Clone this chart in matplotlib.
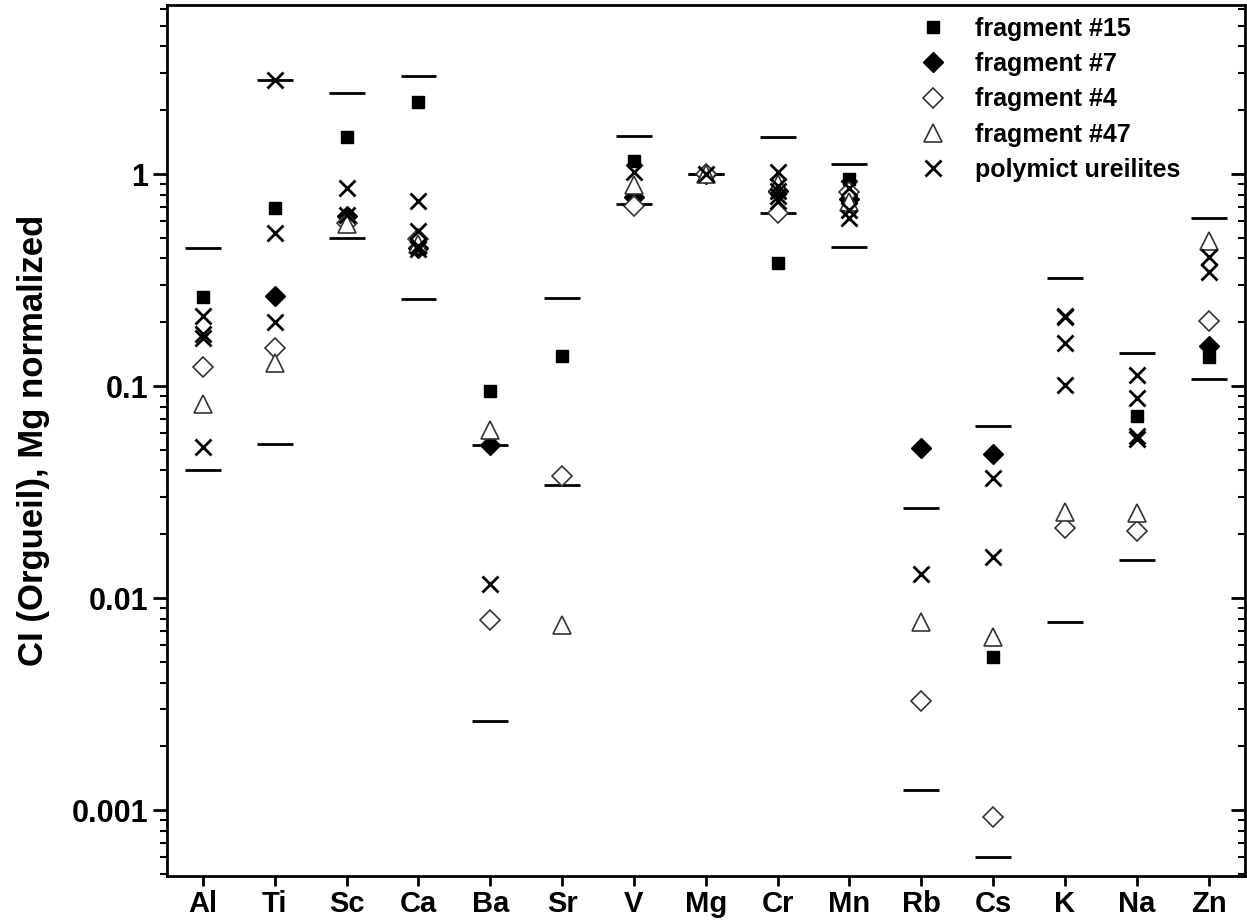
import numpy as np
import matplotlib
matplotlib.use("Agg")
import matplotlib.pyplot as plt
from matplotlib.ticker import LogLocator, FixedLocator, NullFormatter

plt.rcParams['font.family'] = ['Liberation Sans', 'DejaVu Sans']
plt.rcParams['font.weight'] = 'bold'

nan = np.nan

# Elements along the x axis
elements = ["Al", "Ti", "Sc", "Ca", "Ba", "Sr", "V", "Mg", "Cr", "Mn",
            "Rb", "Cs", "K", "Na", "Zn"]

# Range bars (upper / lower) per element
range_upper = [0.449, 2.78, 2.40, 2.91, 0.0527, 0.260, 1.52, 1.0, 1.49, 1.12,
               0.0265, 0.0646, 0.324, 0.1436, 0.620]
range_lower = [0.040, 0.0532, 0.497, 0.257, 0.00263, 0.0343, 0.722, 1.0, 0.655, 0.451,
               0.00124, 0.000602, 0.00768, 0.0152, 0.108]

# Fragments (CI Orgueil, Mg normalized)
frag15 = [0.262, 0.689, 1.50, 2.18, 0.095, 0.139, 1.156, 1.0, 0.379, 0.947,
          nan, 0.00525, nan, 0.0719, 0.137]
frag7 = [nan, 0.265, 0.632, 0.45, 0.0527, nan, 0.78, 1.0, 0.83, 0.76,
         0.0508, 0.048, nan, nan, 0.155]
frag4 = [0.1225, 0.151, 0.59, 0.494, 0.00789, 0.0376, 0.706, 1.0, 0.655, 0.82,
         0.00326, 0.000924, 0.0214, 0.0208, 0.203]
frag47 = [0.0822, 0.129, 0.58, 0.47, 0.062, 0.00746, 0.893, 1.0, 0.90, 0.74,
          0.00776, 0.00657, 0.0256, 0.0251, 0.485]

# Polymict ureilites, several analyses per element
ureilites = {
    "Al": [0.215, 0.176, 0.168, 0.0517],
    "Ti": [2.78, 0.525, 0.201],
    "Sc": [0.856, 0.64],
    "Ca": [0.748, 0.537, 0.459, 0.443],
    "Ba": [0.0116],
    "Sr": [],
    "V": [1.02],
    "Mg": [1.0],
    "Cr": [1.02, 0.881, 0.834, 0.791, 0.748],
    "Mn": [0.86, 0.68, 0.62],
    "Rb": [0.0130],
    "Cs": [0.0367, 0.01556],
    "K": [0.215, 0.212, 0.160, 0.101],
    "Na": [0.1127, 0.0875, 0.0583, 0.0562],
    "Zn": [0.405, 0.346],
}

x = np.arange(len(elements))

fig = plt.figure(figsize=(12.47, 9.21), dpi=100)
ax = fig.add_axes([0.134, 0.049, 0.864, 0.946])

# range bars
ax.hlines(range_upper, x - 0.25, x + 0.25, color='black', lw=2)
ax.hlines(range_lower, x - 0.25, x + 0.25, color='black', lw=2)

ax.plot(x, frag15, 's', color='black', ms=8, ls='none', label='fragment #15')
ax.plot(x, frag7, 'D', color='black', ms=10, ls='none', label='fragment #7')
ax.plot(x, frag4, 'D', mfc='white', mec='#333333', mew=1.2, ms=10, ls='none',
        label='fragment #4')
ax.plot(x, frag47, '^', mfc='white', mec='#333333', mew=1.2, ms=13, ls='none',
        label='fragment #47')

ux = [i for i, el in enumerate(elements) for _ in ureilites[el]]
uy = [v for el in elements for v in ureilites[el]]
ax.plot(ux, uy, 'x', color='black', ms=11, mew=2, ls='none',
        label='polymict ureilites')

ax.set_yscale('log')
ax.set_ylim(0.00049, 6.3)
ax.set_xlim(-0.5, 14.5)

ax.set_xticks(x)
ax.set_xticklabels(elements, fontsize=21, fontweight='bold')
ax.yaxis.set_major_locator(FixedLocator([0.001, 0.01, 0.1, 1]))
ax.set_yticklabels(["0.001", "0.01", "0.1", "1"], fontsize=22, fontweight='bold')
ax.yaxis.set_minor_locator(LogLocator(base=10, subs=np.arange(2, 10)))
ax.yaxis.set_minor_formatter(NullFormatter())

ax.tick_params(axis='y', which='major', direction='out', length=10, width=2, right=True)
ax.tick_params(axis='y', which='minor', direction='out', length=5, width=1.5, right=True)
ax.tick_params(axis='x', which='major', direction='out', length=7, width=2, top=False)
ax.tick_params(axis='y', which='both', labelright=False)
for t in ax.yaxis.get_major_ticks() + ax.yaxis.get_minor_ticks():
    t.tick2line.set_marker(matplotlib.lines.TICKLEFT)

for sp in ax.spines.values():
    sp.set_linewidth(2)

ax.set_ylabel("CI (Orgueil), Mg normalized", fontsize=25, fontweight='bold')
ax.yaxis.set_label_coords(-0.109, 0.5)

leg = ax.legend(loc='upper right', frameon=False, fontsize=18, handletextpad=0.7,
                labelspacing=0.45, borderaxespad=0.3, bbox_to_anchor=(0.957, 1.006))
for t in leg.get_texts():
    t.set_fontweight('bold')

fig.savefig("out.png", dpi=100)
